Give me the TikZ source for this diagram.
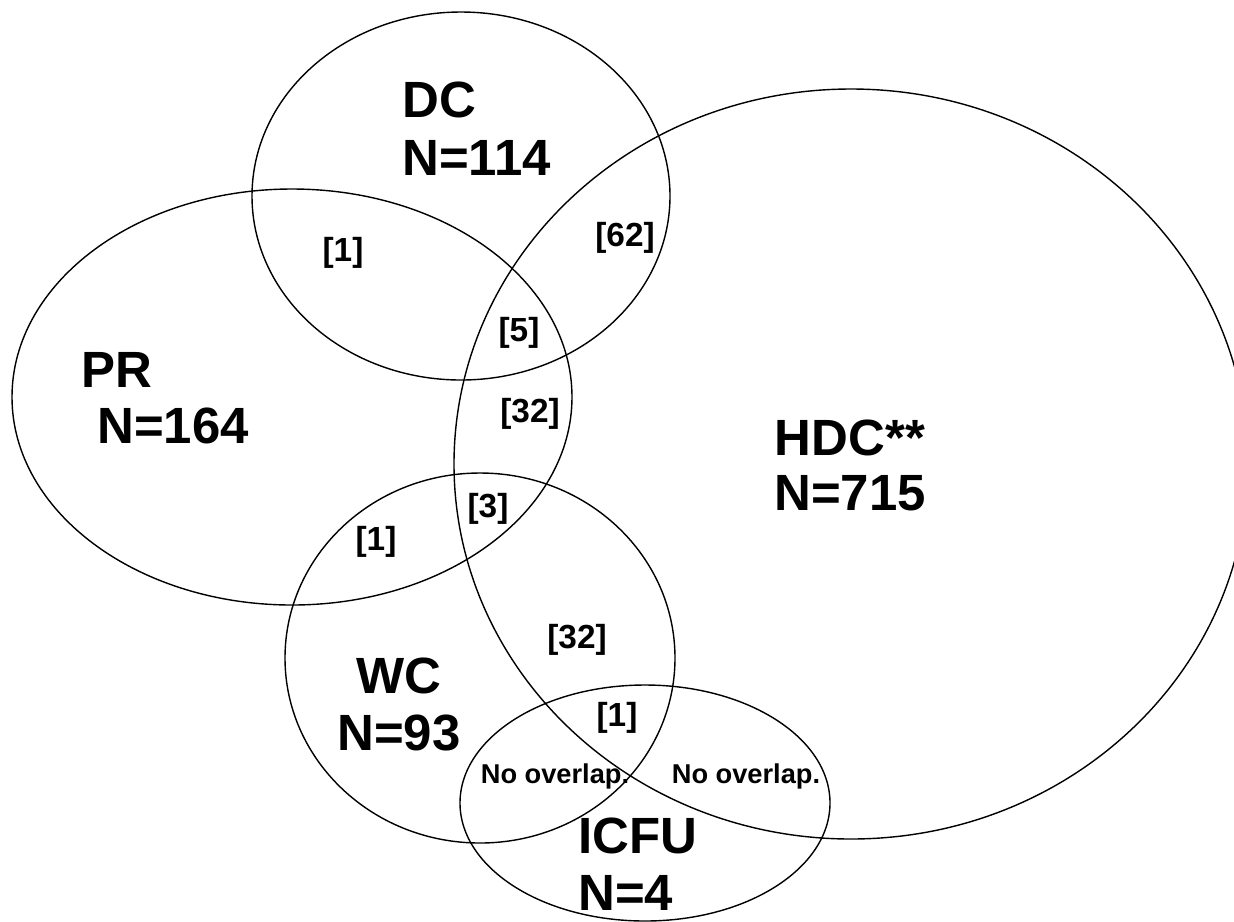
\documentclass[tikz,border=0pt]{standalone}
\usepackage{fontspec}
\setmainfont{Liberation Sans}
\usetikzlibrary{positioning}

\begin{document}
\begin{tikzpicture}[x=0.02cm,y=-0.02cm,
  setline/.style={line width=0.8pt},
  big/.style={font=\fontsize{29}{31}\selectfont\bfseries,inner sep=0pt},
  cnt/.style={font=\fontsize{19}{21}\selectfont\bfseries,inner sep=0pt},
  note/.style={font=\fontsize{15.5}{17}\selectfont\bfseries,inner sep=0pt}
]
  \useasboundingbox (0,0) rectangle (1234,921);
  \clip (0,0) rectangle (1234,921);
  % the five sets
  \draw[setline] (461,196) ellipse (209 and 184); % DC
  \draw[setline] (292,397) ellipse (280 and 208); % PR
  \draw[setline] (851,464) ellipse (397 and 375); % HDC
  \draw[setline] (480,658) ellipse (195 and 185); % WC
  \draw[setline] (645,803) ellipse (185 and 118); % ICFU
  % set names
  \node[big,anchor=base west] (dcname) at (402,117) {DC};
  \node[big,anchor=base west] (dcn) at (402,175) {N=114};
  \node[big,anchor=base west] (prname) at (81,387) {PR};
  \node[big,anchor=base west] (prn) at (97,443) {N=164};
  \node[big,anchor=base] (hdcname) at (850,455) {HDC**};
  \node[big,anchor=base] (hdcn) at (850,510) {N=715};
  \node[big,anchor=base] (wcname) at (399,693) {WC};
  \node[big,anchor=base] (wcn) at (399,750) {N=93};
  \node[big,anchor=base west] (icfuname) at (578,853) {ICFU};
  \node[big,anchor=base west] (icfun) at (578,910) {N=4};
  % overlap counts
  \node[cnt] (dcpr) at (343,253) {[1]};
  \node[cnt] (dchdc) at (625,238) {[62]};
  \node[cnt] (dcprhdc) at (519,333) {[5]};
  \node[cnt] (prhdc) at (530,414) {[32]};
  \node[cnt] (prhdcwc) at (488,509) {[3]};
  \node[cnt] (prwc) at (376,542) {[1]};
  \node[cnt] (wchdc) at (577,640) {[32]};
  \node[cnt] (wchdcicfu) at (617,718) {[1]};
  \node[note,anchor=base] (wcicfu) at (555,783) {No overlap.};
  \node[note,anchor=base] (hdcicfu) at (746,783) {No overlap.};
\end{tikzpicture}
\end{document}
